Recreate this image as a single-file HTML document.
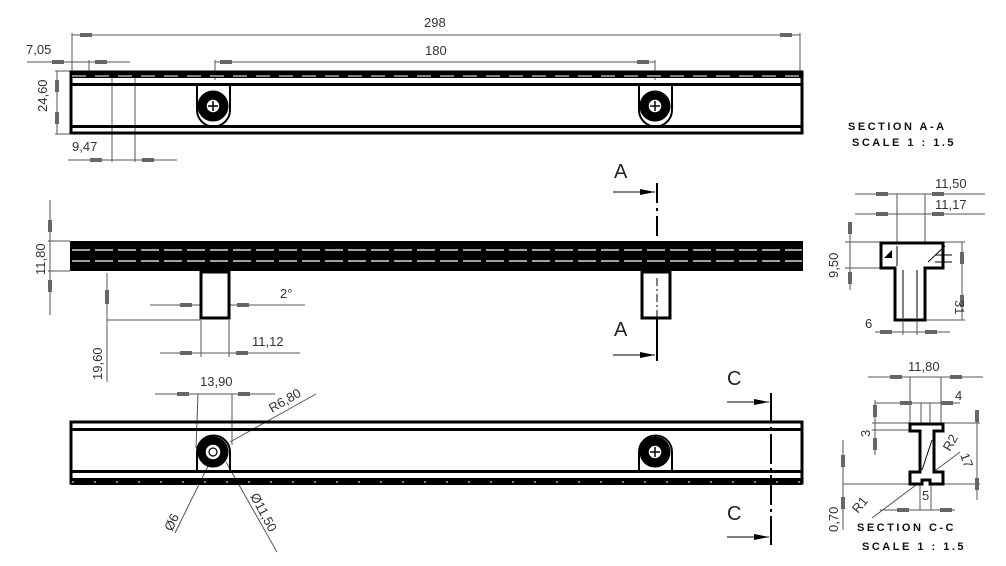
<!DOCTYPE html>
<html><head><meta charset="utf-8"><style>
html,body{margin:0;padding:0;background:#fff;}
svg{display:block;}
text{font-family:"Liberation Sans",sans-serif;fill:#333;}
</style></head><body>
<svg width="1006" height="566" viewBox="0 0 1006 566" xmlns="http://www.w3.org/2000/svg">
<g stroke="#555" stroke-width="1" fill="none">
<line x1="72" y1="35" x2="800" y2="35"/><line x1="72" y1="33" x2="72" y2="71"/><line x1="800" y1="33" x2="800" y2="71"/>
<line x1="215" y1="62" x2="655" y2="62"/><line x1="215" y1="60" x2="215" y2="80"/><line x1="655" y1="60" x2="655" y2="80"/>
<line x1="27" y1="62" x2="130" y2="62"/><line x1="89" y1="60" x2="89" y2="72"/>
<line x1="57" y1="71" x2="57" y2="134"/><line x1="55" y1="71" x2="70" y2="71"/><line x1="55" y1="134" x2="70" y2="134"/>
<line x1="68" y1="160" x2="177" y2="160"/><line x1="112" y1="78" x2="112" y2="162"/><line x1="135" y1="78" x2="135" y2="162"/>
<line x1="50" y1="200" x2="50" y2="315"/><line x1="48" y1="241" x2="70" y2="241"/><line x1="48" y1="271" x2="70" y2="271"/>
<line x1="150" y1="305" x2="200" y2="305"/><line x1="229" y1="305" x2="305" y2="305"/>
<line x1="107" y1="273" x2="107" y2="382"/><line x1="107" y1="320" x2="200" y2="320"/>
<line x1="160" y1="353" x2="300" y2="353"/><line x1="201" y1="320" x2="201" y2="357"/><line x1="229" y1="320" x2="229" y2="357"/>
<line x1="155" y1="394" x2="275" y2="394"/><line x1="198" y1="394" x2="196" y2="448"/><line x1="232" y1="394" x2="232" y2="445"/>
<line x1="230" y1="442" x2="316" y2="394"/>
<line x1="210" y1="462" x2="175" y2="533"/>
<line x1="226" y1="462" x2="277" y2="552"/>
<line x1="855" y1="194" x2="985" y2="194"/><line x1="855" y1="214" x2="985" y2="214"/>
<line x1="897" y1="194" x2="897" y2="268"/><line x1="925" y1="194" x2="925" y2="268"/>
<line x1="845" y1="242" x2="880" y2="242"/><line x1="845" y1="268" x2="880" y2="268"/><line x1="850" y1="225" x2="850" y2="290"/>
<line x1="943" y1="242" x2="965" y2="242"/><line x1="925" y1="320" x2="965" y2="320"/><line x1="962" y1="242" x2="962" y2="320"/>
<line x1="875" y1="332" x2="950" y2="332"/><line x1="903" y1="322" x2="903" y2="335"/><line x1="917" y1="322" x2="917" y2="335"/>
<line x1="868" y1="377" x2="983" y2="377"/><line x1="910" y1="377" x2="910" y2="423"/><line x1="941" y1="377" x2="941" y2="423"/>
<line x1="875" y1="403" x2="960" y2="403"/><line x1="921" y1="403" x2="921" y2="423"/><line x1="930" y1="403" x2="930" y2="423"/>
<line x1="872" y1="423" x2="910" y2="423"/><line x1="872" y1="430" x2="910" y2="430"/><line x1="875" y1="400" x2="875" y2="455"/>
<line x1="943" y1="423" x2="980" y2="423"/><line x1="943" y1="484" x2="980" y2="484"/><line x1="977" y1="410" x2="977" y2="500"/>
<line x1="843" y1="484" x2="910" y2="484"/><line x1="843" y1="440" x2="843" y2="530"/>
<line x1="880" y1="510" x2="955" y2="510"/><line x1="920" y1="484" x2="920" y2="510"/><line x1="931" y1="484" x2="931" y2="510"/>
<line x1="872" y1="518" x2="960" y2="452"/>
</g>
<g fill="#666">
<rect x="80" y="33" width="12" height="4"/><rect x="780" y="33" width="12" height="4"/>
<rect x="220" y="60" width="12" height="4"/><rect x="637" y="60" width="12" height="4"/>
<rect x="52" y="60" width="12" height="4"/><rect x="95" y="60" width="12" height="4"/>
<rect x="55" y="80" width="4" height="12"/><rect x="55" y="112" width="4" height="12"/>
<rect x="90" y="158" width="12" height="4"/><rect x="142" y="158" width="12" height="4"/>
<rect x="48" y="220" width="4" height="12"/><rect x="48" y="280" width="4" height="12"/>
<rect x="180" y="303" width="12" height="4"/><rect x="237" y="303" width="12" height="4"/>
<rect x="105" y="290" width="4" height="14"/>
<rect x="180" y="351" width="12" height="4"/><rect x="236" y="351" width="12" height="4"/>
<rect x="177" y="392" width="12" height="4"/><rect x="238" y="392" width="12" height="4"/>
<rect x="876" y="192" width="12" height="4"/><rect x="932" y="192" width="12" height="4"/>
<rect x="876" y="212" width="12" height="4"/><rect x="932" y="212" width="12" height="4"/>
<rect x="848" y="222" width="4" height="12"/><rect x="848" y="272" width="4" height="12"/>
<rect x="960" y="252" width="4" height="12"/><rect x="960" y="295" width="4" height="12"/>
<rect x="880" y="330" width="12" height="4"/><rect x="925" y="330" width="12" height="4"/>
<rect x="890" y="375" width="12" height="4"/><rect x="950" y="375" width="12" height="4"/>
<rect x="900" y="401" width="12" height="4"/><rect x="941" y="401" width="12" height="4"/>
<rect x="873" y="405" width="4" height="12"/><rect x="873" y="438" width="4" height="12"/>
<rect x="975" y="410" width="4" height="12"/><rect x="975" y="478" width="4" height="12"/>
<rect x="841" y="455" width="4" height="12"/><rect x="841" y="497" width="4" height="12"/>
<rect x="897" y="508" width="12" height="4"/><rect x="940" y="508" width="12" height="4"/>
</g>
<g stroke="#000" fill="none">
<rect x="71" y="72" width="731" height="61" stroke-width="3"/>
<rect x="71" y="71" width="731" height="7" fill="#000" stroke="none"/>
<line x1="71" y1="84.5" x2="802" y2="84.5" stroke-width="3"/>
<line x1="71" y1="126.5" x2="802" y2="126.5" stroke-width="3"/>
<line x1="72" y1="76" x2="802" y2="76" stroke="#fff" stroke-width="1" stroke-dasharray="14 9"/>
<path d="M197,86 V110 A16,16 0 0 0 230,110 V86" stroke-width="2"/>
<circle cx="213" cy="106" r="15" fill="#000"/><circle cx="213" cy="106" r="7" fill="#fff" stroke="#000" stroke-width="1.5"/>
<path d="M213,101 V111 M208,106 H218" stroke-width="1.5"/>
<path d="M639,86 V110 A16,16 0 0 0 672,110 V86" stroke-width="2"/>
<circle cx="655" cy="106" r="15" fill="#000"/><circle cx="655" cy="106" r="7" fill="#fff" stroke="#000" stroke-width="1.5"/>
<path d="M655,101 V111 M650,106 H660" stroke-width="1.5"/>
</g>
<rect x="70" y="241" width="733" height="30" fill="#000"/>
<g stroke="#fff" stroke-width="1.2">
<line x1="72" y1="250" x2="802" y2="250" stroke-dasharray="18 5"/>
<line x1="72" y1="261" x2="802" y2="261" stroke-dasharray="18 5"/>
</g>
<rect x="201" y="272" width="28" height="46" fill="#fff" stroke="#000" stroke-width="3"/>
<rect x="642" y="272" width="28" height="46" fill="#fff" stroke="#000" stroke-width="3"/>
<line x1="657" y1="278" x2="657" y2="318" stroke="#000" stroke-dasharray="8 3 2 3"/>
<g stroke="#000">
<line x1="657" y1="183" x2="657" y2="240" stroke-width="2" stroke-dasharray="20 5 3 5"/>
<line x1="657" y1="318" x2="657" y2="361" stroke-width="2"/>
<line x1="613" y1="192" x2="655" y2="192"/><line x1="613" y1="355" x2="655" y2="355"/>
<line x1="771" y1="393" x2="771" y2="545" stroke-width="2" stroke-dasharray="30 4 3 4"/>
<line x1="727" y1="402" x2="769" y2="402"/><line x1="727" y1="537" x2="769" y2="537"/>
</g>
<g fill="#000"><path d="M640,189 L655,192 L640,195Z"/><path d="M640,352 L655,355 L640,358Z"/>
<path d="M754,399 L769,402 L754,405Z"/><path d="M754,534 L769,537 L754,540Z"/></g>
<g stroke="#000" fill="none">
<rect x="71" y="422" width="731" height="61" stroke-width="3"/>
<line x1="71" y1="429.5" x2="802" y2="429.5" stroke-width="3"/>
<line x1="71" y1="471.5" x2="802" y2="471.5" stroke-width="3"/>
<rect x="71" y="478" width="731" height="7" fill="#000" stroke="none"/>
<line x1="72" y1="482" x2="802" y2="482" stroke="#fff" stroke-width="1" stroke-dasharray="2 20"/>
<path d="M197,471 V452 A16,16 0 0 1 230,452 V471" stroke-width="2"/>
<circle cx="213" cy="452" r="15" fill="#000"/><circle cx="213" cy="452" r="8" fill="#fff" stroke="#000" stroke-width="1.5"/>
<circle cx="213" cy="452" r="4" stroke-width="1.2"/>
<path d="M639,471 V452 A16,16 0 0 1 672,452 V471" stroke-width="2"/>
<circle cx="655" cy="452" r="15" fill="#000"/><circle cx="655" cy="452" r="7" fill="#fff" stroke="#000" stroke-width="1.5"/>
<path d="M655,447 V457 M650,452 H660" stroke-width="1.5"/>
</g>
<path d="M881,243 H943 V268 H925 V320 H895 V268 H881 Z" fill="#fff" stroke="#000" stroke-width="3"/>
<g stroke="#000" stroke-width="1" fill="none">
<line x1="903" y1="270" x2="903" y2="318"/><line x1="917" y1="270" x2="917" y2="318"/>
<line x1="928" y1="262" x2="945" y2="246"/><line x1="935" y1="255" x2="952" y2="255"/><line x1="935" y1="262" x2="952" y2="262"/>
<line x1="897" y1="246" x2="897" y2="266"/>
</g>
<path d="M884,258 L892,250 L892,258Z" fill="#000"/>
<path d="M910,424 H943 V431 H934 V472 H943 V484 H930 V480 H922 V484 H910 V472 H920 V431 H910 Z" fill="#fff" stroke="#000" stroke-width="3"/>
<line x1="922" y1="470" x2="932" y2="440" stroke="#000" stroke-width="1"/>
<g font-size="13">
<text x="424" y="27">298</text>
<text x="425" y="55">180</text>
<text x="26" y="54">7,05</text>
<text x="72" y="151">9,47</text>
<text transform="translate(47,112) rotate(-90)">24,60</text>
<text transform="translate(45,275) rotate(-90)">11,80</text>
<text x="280" y="298">2°</text>
<text x="252" y="346">11,12</text>
<text transform="translate(102,380) rotate(-90)">19,60</text>
<text x="200" y="386">13,90</text>
<text transform="translate(272,413) rotate(-30)">R6,80</text>
<text transform="translate(172,532) rotate(-65)">Ø6</text>
<text transform="translate(250,496) rotate(62)">Ø11,50</text>
<text x="935" y="188">11,50</text>
<text x="935" y="209">11,17</text>
<text transform="translate(838,278) rotate(-90)">9,50</text>
<text transform="translate(955,300) rotate(90)">31</text>
<text x="865" y="328">6</text>
<text x="908" y="371">11,80</text>
<text x="955" y="400">4</text>
<text transform="translate(870,437) rotate(-90)">3</text>
<text transform="translate(950,452) rotate(-60)">R2</text>
<text transform="translate(960,455) rotate(70)">17</text>
<text transform="translate(858,514) rotate(-50)">R1</text>
<text x="922" y="500">5</text>
<text transform="translate(838,532) rotate(-90)">0,70</text>
</g>
<g font-size="20">
<text x="614" y="178" style="fill:#222">A</text>
<text x="614" y="336" style="fill:#222">A</text>
<text x="727" y="385" style="fill:#222">C</text>
<text x="727" y="520" style="fill:#222">C</text>
</g>
<g font-size="11" letter-spacing="2.5" font-weight="bold">
<text x="848" y="130" style="fill:#111">SECTION A-A</text>
<text x="852" y="146" style="fill:#111">SCALE 1 : 1.5</text>
<text x="857" y="531" style="fill:#111">SECTION C-C</text>
<text x="862" y="550" style="fill:#111">SCALE 1 : 1.5</text>
</g>
</svg>
</body></html>
